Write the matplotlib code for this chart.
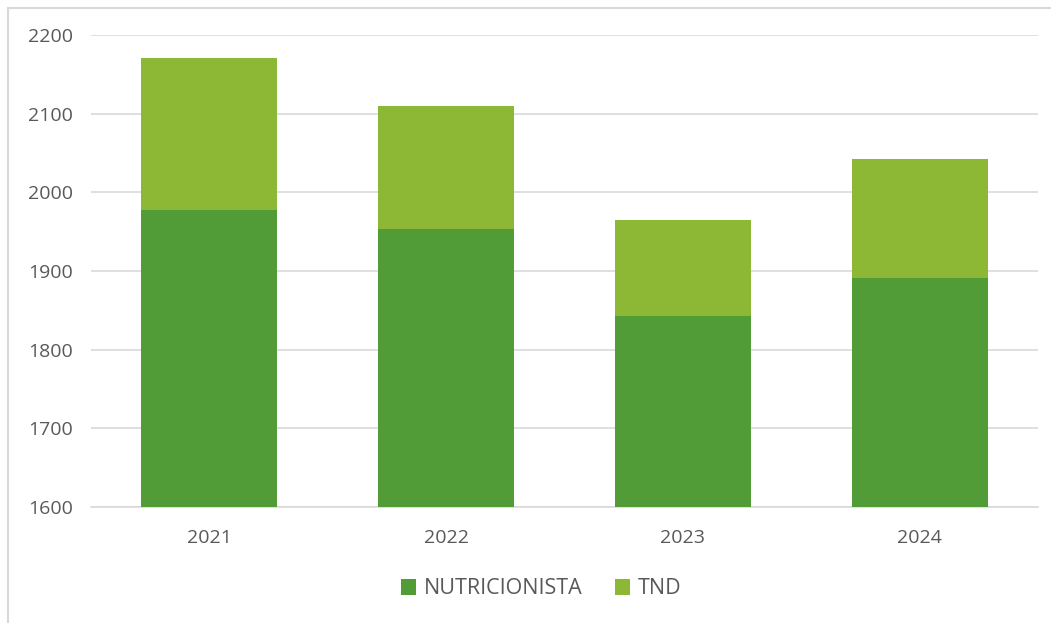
import matplotlib.pyplot as plt
from matplotlib.patches import Rectangle
import numpy as np

years = ['2021', '2022', '2023', '2024']
nutricionista = [1977, 1953, 1843, 1891]
tnd = [194, 157, 122, 151]

dark_green = '#529c38'
light_green = '#8cb835'
grid_gray = '#d9d9d9'
text_gray = '#595959'

plt.rcParams['font.family'] = ['Open Sans', 'DejaVu Sans']

fig = plt.figure(figsize=(10.51, 6.23), dpi=100)
ax = fig.add_axes([91/1051, 116/623, (1038-91)/1051, (507-35)/623])

# outer chart frame
fig.patches.append(Rectangle((8/1051, -0.05), 1.2, 1 - 8/623 + 0.05, transform=fig.transFigure,
                             fill=False, edgecolor='#d9d9d9', linewidth=1.5))

x = np.arange(len(years))
ax.bar(x, nutricionista, width=0.575, color=dark_green, label='NUTRICIONISTA', zorder=3)
ax.bar(x, tnd, width=0.575, bottom=nutricionista, color=light_green, label='TND', zorder=3)

ax.set_ylim(1600, 2200)
ax.set_xlim(-0.5, 3.5)
ax.set_yticks(range(1600, 2201, 100))
ax.set_xticks(x)
ax.set_xticklabels(years)
ax.yaxis.grid(True, color=grid_gray, linewidth=1.2, zorder=0)
ax.set_axisbelow(True)
for s in ['top', 'right', 'left']:
    ax.spines[s].set_visible(False)
ax.spines['bottom'].set_color(grid_gray)
ax.spines['bottom'].set_linewidth(1.2)
ax.tick_params(axis='both', length=0, labelsize=14, colors=text_gray)
ax.tick_params(axis='y', pad=13)
ax.tick_params(axis='x', pad=16)

leg = fig.legend(loc='center', bbox_to_anchor=(0.515, 1 - 589/623), ncol=2, frameon=False,
                 fontsize=15.5, handlelength=0.7, handleheight=0.7, handletextpad=0.35, columnspacing=1.5)
for t in leg.get_texts():
    t.set_color(text_gray)

fig.savefig('out.png', dpi=100)
